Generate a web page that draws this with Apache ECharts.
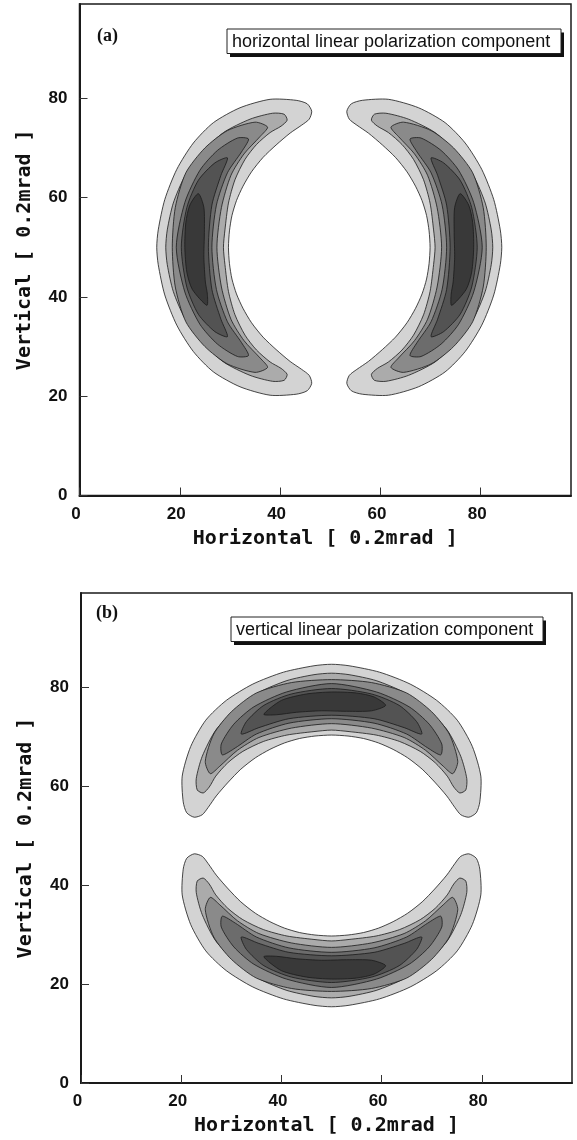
<!DOCTYPE html>
<html>
<head>
<meta charset="utf-8">
<script src="https://cdn.jsdelivr.net/npm/echarts@6/dist/echarts.min.js"></script>
<style>
html,body{margin:0;padding:0;background:#fff;}
#c{width:577px;height:1140px;}
</style>
</head>
<body>
<div id="c"></div>
<script>
// ---------- data (contour outlines, in axis units) ----------
const xTicks = [0, 20, 40, 60, 80];
const yTicks = [0, 20, 40, 60, 80];
const panelLabels = ['(a)', '(b)'];
const panelTitles = ['horizontal linear polarization component', 'vertical linear polarization component'];
const xAxisTitle = 'Horizontal [ 0.2mrad ]';
const yAxisTitle = 'Vertical [ 0.2mrad ]';

// panel (a) – left crescent, contour levels 1 (outer) .. 6 (core)
const aLeft = [
  [[15.4,50],[15.7,53.5],[17.0,59.6],[19.4,65.7],[22.7,71.0],[26.7,75.1],[32.0,78.1],[38.0,79.8],[43.2,79.6],[45.4,78.9],[46.3,77.4],[45.8,75.8],[44.3,74.6],[42.0,73.0],[39.2,70.6],[36.6,68.1],[34.3,65.2],[32.6,62.3],[31.3,59.4],[30.4,56.4],[29.9,53.3],[29.7,50],[29.9,46.7],[30.4,43.6],[31.3,40.6],[32.6,37.7],[34.3,34.8],[36.6,31.9],[39.2,29.4],[42.0,27.0],[44.3,25.4],[45.8,24.2],[46.3,22.6],[45.4,21.1],[43.2,20.4],[38.0,20.2],[32.0,21.9],[26.7,24.9],[22.7,29.0],[19.4,34.3],[17.0,40.4],[15.7,46.5]],
  [[17.2,50],[17.5,53.5],[18.7,58.9],[21.0,64.3],[24.4,69.0],[28.7,73.1],[34.0,75.8],[38.5,77.0],[40.8,76.8],[41.4,75.6],[40.2,74.4],[38.0,73.1],[35.3,70.7],[33.0,67.7],[31.0,63.6],[29.7,58.9],[29.0,53.5],[28.7,50],[29.0,46.5],[29.7,41.1],[31.0,36.4],[33.0,32.3],[35.3,29.3],[38.0,26.9],[40.2,25.6],[41.4,24.4],[40.8,23.2],[38.5,23.0],[34.0,24.2],[28.7,26.9],[24.4,31.0],[21.0,35.7],[18.7,41.1],[17.5,46.5]],
  [[18.5,50],[19.1,58],[21.2,65],[25,70],[29.5,73.5],[35,75.2],[37.5,74.2],[36.0,72.3],[32.8,68.8],[30.2,64.5],[28.3,58],[27.4,50],[28.3,42],[30.2,35.5],[32.8,31.2],[36.0,27.7],[37.5,25.8],[35,24.8],[29.5,26.5],[25,30],[21.2,35],[19.1,42]],
  [[19.3,50],[21,59],[24,65.5],[27.5,69.5],[31.5,72],[33.7,71.8],[32.3,69.2],[29.5,65],[27.3,58.5],[26.4,50],[27.3,41.5],[29.5,35],[32.3,30.8],[33.7,28.2],[31.5,28],[27.5,30.5],[24,34.5],[21,41]],
  [[29.5,32],[27,33],[23.7,36.5],[21.4,42],[20.3,50],[21.4,58],[23.7,63.5],[27,67],[29.5,68],[28.2,64.5],[26.4,58.5],[25.7,50],[26.4,41.5],[28.2,35.5]],
  [[25.4,38.3],[22.5,41.5],[21.4,45.0],[21.0,50.0],[21.2,55.0],[22.0,58.5],[23.7,60.8],[24.8,58.0],[24.9,53.0],[24.8,48.0],[25.1,43.0],[25.5,40.5]]
];

// panel (a) – right crescent
const aRight = [
  [[84.2,50],[83.9,53.5],[82.6,59.6],[80.2,65.7],[76.9,71.0],[72.9,75.1],[67.6,78.1],[61.6,79.8],[56.4,79.6],[54.2,78.9],[53.3,77.4],[53.8,75.8],[55.3,74.6],[57.6,73.0],[60.4,70.6],[63.0,68.1],[65.3,65.2],[67.0,62.3],[68.3,59.4],[69.2,56.4],[69.7,53.3],[69.9,50],[69.7,46.7],[69.2,43.6],[68.3,40.6],[67.0,37.7],[65.3,34.8],[63.0,31.9],[60.4,29.4],[57.6,27.0],[55.3,25.4],[53.8,24.2],[53.3,22.6],[54.2,21.1],[56.4,20.4],[61.6,20.2],[67.6,21.9],[72.9,24.9],[76.9,29.0],[80.2,34.3],[82.6,40.4],[83.9,46.5]],
  [[82.4,50],[82.1,53.5],[80.9,58.9],[78.6,64.3],[75.2,69.0],[70.9,73.1],[65.6,75.8],[61.1,77.0],[58.8,76.8],[58.2,75.6],[59.4,74.4],[61.6,73.1],[64.3,70.7],[66.6,67.7],[68.6,63.6],[69.9,58.9],[70.6,53.5],[70.9,50],[70.6,46.5],[69.9,41.1],[68.6,36.4],[66.6,32.3],[64.3,29.3],[61.6,26.9],[59.4,25.6],[58.2,24.4],[58.8,23.2],[61.1,23.0],[65.6,24.2],[70.9,26.9],[75.2,31.0],[78.6,35.7],[80.9,41.1],[82.1,46.5]],
  [[81.1,50],[80.5,58],[78.4,65],[74.6,70],[70.1,73.5],[64.6,75.2],[62.1,74.2],[63.6,72.3],[66.8,68.8],[69.4,64.5],[71.3,58],[72.2,50],[71.3,42],[69.4,35.5],[66.8,31.2],[63.6,27.7],[62.1,25.8],[64.6,24.8],[70.1,26.5],[74.6,30],[78.4,35],[80.5,42]],
  [[80.3,50],[78.6,59],[75.6,65.5],[72.1,69.5],[68.1,72],[65.9,71.8],[67.3,69.2],[70.1,65],[72.3,58.5],[73.2,50],[72.3,41.5],[70.1,35],[67.3,30.8],[65.9,28.2],[68.1,28],[72.1,30.5],[75.6,34.5],[78.6,41]],
  [[70.1,32],[72.6,33],[75.9,36.5],[78.2,42],[79.3,50],[78.2,58],[75.9,63.5],[72.6,67],[70.1,68],[71.4,64.5],[73.2,58.5],[73.9,50],[73.2,41.5],[71.4,35.5]],
  [[74.2,38.3],[77.1,41.5],[78.2,45],[78.6,50],[78.4,55],[77.6,58.5],[75.9,60.8],[74.8,58],[74.7,53],[74.8,48],[74.5,43],[74.1,40.5]]
];

// panel (b) – upper crescent
const bTop = [
  [[50,84.6],[53.5,84.3],[59.6,83.0],[65.7,80.6],[71.0,77.3],[75.1,73.3],[78.1,68.0],[79.8,62.0],[79.6,56.8],[78.9,54.6],[77.4,53.7],[75.8,54.2],[74.6,55.7],[73.0,58.0],[70.6,60.8],[68.1,63.4],[65.2,65.7],[62.3,67.4],[59.4,68.7],[56.4,69.6],[53.3,70.1],[50,70.3],[46.7,70.1],[43.6,69.6],[40.6,68.7],[37.7,67.4],[34.8,65.7],[31.9,63.4],[29.4,60.8],[27.0,58.0],[25.4,55.7],[24.2,54.2],[22.6,53.7],[21.1,54.6],[20.4,56.8],[20.2,62.0],[21.9,68.0],[24.9,73.3],[29.0,77.3],[34.3,80.6],[40.4,83.0],[46.5,84.3]],
  [[50,82.8],[53.5,82.5],[58.9,81.3],[64.3,79.0],[69.0,75.6],[73.1,71.3],[75.8,66.0],[77.0,61.5],[76.8,59.2],[75.6,58.6],[74.4,59.8],[73.1,62.0],[70.7,64.7],[67.7,67.0],[63.6,69.0],[58.9,70.3],[53.5,71.0],[50,71.3],[46.5,71.0],[41.1,70.3],[36.4,69.0],[32.3,67.0],[29.3,64.7],[26.9,62.0],[25.6,59.8],[24.4,58.6],[23.2,59.2],[23.0,61.5],[24.2,66.0],[26.9,71.3],[31.0,75.6],[35.7,79.0],[41.1,81.3],[46.5,82.5]],
  [[50,81.5],[58,80.9],[65,78.8],[70,75],[73.5,70.5],[75.2,65],[74.2,62.5],[72.3,64.0],[68.8,67.2],[64.5,69.8],[58,71.7],[50,72.6],[42,71.7],[35.5,69.8],[31.2,67.2],[27.7,64.0],[25.8,62.5],[24.8,65],[26.5,70.5],[30,75],[35,78.8],[42,80.9]],
  [[50,80.7],[59,79],[65.5,76],[69.5,72.5],[72,68.5],[71.8,66.3],[69.2,67.7],[65,70.5],[58.5,72.7],[50,73.6],[41.5,72.7],[35,70.5],[30.8,67.7],[28.2,66.3],[28,68.5],[30.5,72.5],[34.5,76],[41,79]],
  [[32,70.5],[33,73],[36.5,76.3],[42,78.6],[50,79.7],[58,78.6],[63.5,76.3],[67,73],[68,70.5],[64.5,71.8],[58.5,73.6],[50,74.3],[41.5,73.6],[35.5,71.8]],
  [[36.5,74.5],[40,77.3],[45,78.6],[50,79.0],[55,78.8],[58.5,78],[60.8,76.3],[58,75.2],[53,75.1],[48,75.2],[43,74.9],[39,74.4]]
];

// panel (b) – lower crescent
const bBottom = [
  [[50,15.4],[53.5,15.7],[59.6,17.0],[65.7,19.4],[71.0,22.7],[75.1,26.7],[78.1,32.0],[79.8,38.0],[79.6,43.2],[78.9,45.4],[77.4,46.3],[75.8,45.8],[74.6,44.3],[73.0,42.0],[70.6,39.2],[68.1,36.6],[65.2,34.3],[62.3,32.6],[59.4,31.3],[56.4,30.4],[53.3,29.9],[50,29.7],[46.7,29.9],[43.6,30.4],[40.6,31.3],[37.7,32.6],[34.8,34.3],[31.9,36.6],[29.4,39.2],[27.0,42.0],[25.4,44.3],[24.2,45.8],[22.6,46.3],[21.1,45.4],[20.4,43.2],[20.2,38.0],[21.9,32.0],[24.9,26.7],[29.0,22.7],[34.3,19.4],[40.4,17.0],[46.5,15.7]],
  [[50,17.2],[53.5,17.5],[58.9,18.7],[64.3,21.0],[69.0,24.4],[73.1,28.7],[75.8,34.0],[77.0,38.5],[76.8,40.8],[75.6,41.4],[74.4,40.2],[73.1,38.0],[70.7,35.3],[67.7,33.0],[63.6,31.0],[58.9,29.7],[53.5,29.0],[50,28.7],[46.5,29.0],[41.1,29.7],[36.4,31.0],[32.3,33.0],[29.3,35.3],[26.9,38.0],[25.6,40.2],[24.4,41.4],[23.2,40.8],[23.0,38.5],[24.2,34.0],[26.9,28.7],[31.0,24.4],[35.7,21.0],[41.1,18.7],[46.5,17.5]],
  [[50,18.5],[58,19.1],[65,21.2],[70,25],[73.5,29.5],[75.2,35],[74.2,37.5],[72.3,36.0],[68.8,32.8],[64.5,30.2],[58,28.3],[50,27.4],[42,28.3],[35.5,30.2],[31.2,32.8],[27.7,36.0],[25.8,37.5],[24.8,35],[26.5,29.5],[30,25],[35,21.2],[42,19.1]],
  [[50,19.3],[59,21],[65.5,24],[69.5,27.5],[72,31.5],[71.8,33.7],[69.2,32.3],[65,29.5],[58.5,27.3],[50,26.4],[41.5,27.3],[35,29.5],[30.8,32.3],[28.2,33.7],[28,31.5],[30.5,27.5],[34.5,24],[41,21]],
  [[32,29.5],[33,27],[36.5,23.7],[42,21.4],[50,20.3],[58,21.4],[63.5,23.7],[67,27],[68,29.5],[64.5,28.2],[58.5,26.4],[50,25.7],[41.5,26.4],[35.5,28.2]],
  [[36.5,25.5],[40,22.7],[45,21.4],[50,21.0],[55,21.2],[58.5,22],[60.8,23.7],[58,24.8],[53,24.9],[48,24.8],[43,25.1],[39,25.6]]
];

// ---------- styling ----------
const LEVEL_COLORS = ['#d3d3d3', '#ababab', '#8a8a8a', '#6c6c6c', '#535353', '#393939'];
const LINE_COLOR = '#1a1a1a';

function contourSeries(gridIndex, crescents) {
  const items = [];
  crescents.forEach(levels => levels.forEach((pts, li) => items.push({ pts, li })));
  return {
    type: 'custom',
    coordinateSystem: 'cartesian2d',
    xAxisIndex: gridIndex,
    yAxisIndex: gridIndex,
    silent: true,
    clip: true,
    data: items.map(it => [it.pts[0][0], it.pts[0][1]]),
    renderItem: function (params, api) {
      const it = items[params.dataIndex];
      return {
        type: 'polygon',
        shape: { points: it.pts.map(p => api.coord(p)), smooth: 0.25 },
        style: { fill: LEVEL_COLORS[it.li], stroke: LINE_COLOR, lineWidth: 0.8 }
      };
    }
  };
}

const grids = [
  { left: 79.5, top: 4, width: 491.5, height: 491.5 },
  { left: 81, top: 593, width: 491, height: 490 }
];

const labelStyle = { fontFamily: 'Liberation Sans', fontSize: 17, fontWeight: 'bold', color: '#111' };
const titleStyle = { fontFamily: 'DejaVu Sans Mono', fontSize: 20, fontWeight: 'bold', color: '#111' };

function xAxisFor(i) {
  return {
    type: 'value', gridIndex: i, min: xTicks[0], max: 98, interval: xTicks[1] - xTicks[0],
    name: xAxisTitle, nameLocation: 'middle', nameGap: 33,
    nameTextStyle: titleStyle,
    axisLine: { show: true, lineStyle: { color: '#1a1a1a', width: 2 } },
    axisTick: { show: true, inside: true, length: 8, lineStyle: { color: '#333', width: 1 } },
    axisLabel: Object.assign({ margin: 10, showMaxLabel: false, padding: [0, 7, 0, 0] }, labelStyle),
    splitLine: { show: false }
  };
}
function yAxisFor(i) {
  return {
    type: 'value', gridIndex: i, min: yTicks[0], max: 99, interval: yTicks[1] - yTicks[0],
    name: yAxisTitle, nameLocation: 'middle', nameGap: 45,
    nameTextStyle: titleStyle,
    axisLine: { show: true, lineStyle: { color: '#1a1a1a', width: 2 } },
    axisTick: { show: true, inside: true, length: 8, lineStyle: { color: '#333', width: 1 } },
    axisLabel: Object.assign({ margin: 12, showMaxLabel: false }, labelStyle),
    splitLine: { show: false }
  };
}

function panelGraphics(i, labelPos, box) {
  return [
    { type: 'text', left: labelPos[0], top: labelPos[1], z: 10,
      style: { text: panelLabels[i], font: 'bold 18px "Liberation Serif"', fill: '#111' } },
    { type: 'rect', shape: { x: box[0] + 3, y: box[1] + 3.5, width: box[2], height: box[3] }, z: 10,
      style: { fill: '#111' } },
    { type: 'rect', shape: { x: box[0], y: box[1], width: box[2], height: box[3] }, z: 11,
      style: { fill: '#fff', stroke: '#222', lineWidth: 1 } },
    { type: 'text', x: box[0] + 5, y: box[1] + box[3] / 2 + 0.5, z: 12,
      style: { text: panelTitles[i], font: '18px "Liberation Sans"', fill: '#111', textVerticalAlign: 'middle' } }
  ];
}

const chart = echarts.init(document.getElementById('c'), null, { renderer: 'canvas' });
chart.setOption({
  animation: false,
  backgroundColor: '#fff',
  grid: grids.map(g => Object.assign({ show: true, borderColor: '#1a1a1a', borderWidth: 1.5, backgroundColor: 'transparent' }, g)),
  xAxis: [xAxisFor(0), xAxisFor(1)],
  yAxis: [yAxisFor(0), yAxisFor(1)],
  series: [contourSeries(0, [aLeft, aRight]), contourSeries(1, [bTop, bBottom])],
  graphic: [].concat(
    panelGraphics(0, [97, 27], [227, 29, 334, 24.5]),
    panelGraphics(1, [96, 604], [231, 617, 312, 24.5])
  )
});
</script>
</body>
</html>
